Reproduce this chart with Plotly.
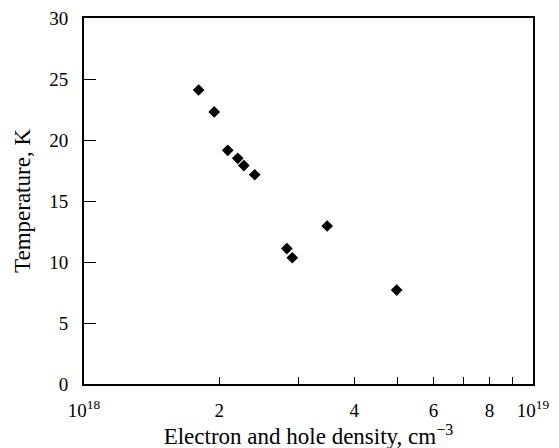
import plotly.graph_objects as go

density = [1.80e18, 1.95e18, 2.09e18, 2.20e18, 2.27e18, 2.40e18, 3.48e18, 2.83e18, 2.91e18, 4.97e18]
temperature = [24.1, 22.3, 19.15, 18.5, 17.9, 17.15, 12.95, 11.1, 10.35, 7.7]

x_tickvals = [1e18, 2e18, 4e18, 6e18, 8e18, 1e19]
x_ticktext = ["10<sup>18</sup>", "2", "4", "6", "8", "10<sup>19</sup>"]
x_minor_tickvals = [3e18, 5e18, 7e18, 9e18]
y_tickvals = [0, 5, 10, 15, 20, 25, 30]

font_family = "Liberation Serif"

fig = go.Figure()
fig.add_trace(go.Scatter(
    x=density, y=temperature, mode="markers",
    marker=dict(symbol="diamond", size=9, color="black"),
    showlegend=False,
))

# page body has an 8px default margin; compensate so plot area lands at x 84-533, y 18-384
fig.update_layout(
    width=559, height=448,
    margin=dict(l=76, r=34, t=10, b=72),
    paper_bgcolor="white", plot_bgcolor="white",
    font=dict(family=font_family, size=19, color="black"),
    xaxis=dict(
        type="log", range=[18, 19], automargin=False,
        tickmode="array", tickvals=x_tickvals, ticktext=x_ticktext,
        ticks="inside", ticklen=7, tickwidth=1.3, tickcolor="black",
        minor=dict(tickmode="array", tickvals=x_minor_tickvals, ticks="inside",
                   ticklen=7, tickwidth=1.3, tickcolor="black", showgrid=False),
        showline=True, linecolor="black", linewidth=1.8, mirror=True,
        showgrid=False, zeroline=False,
        ticklabelstandoff=8, ticklabeloverflow="allow",
        title=dict(text="Electron and hole density, cm<sup>\u22123</sup>", standoff=2),
    ),
    yaxis=dict(
        range=[0, 30], automargin=False,
        tickmode="array", tickvals=y_tickvals,
        ticks="inside", ticklen=12, tickwidth=1.3, tickcolor="black",
        showline=True, linecolor="black", linewidth=1.8, mirror=True,
        showgrid=False, zeroline=False,
        ticklabelstandoff=10, ticklabeloverflow="allow",
        title=dict(text="Temperature, K", standoff=12),
    ),
)

fig.write_html("out.html")
